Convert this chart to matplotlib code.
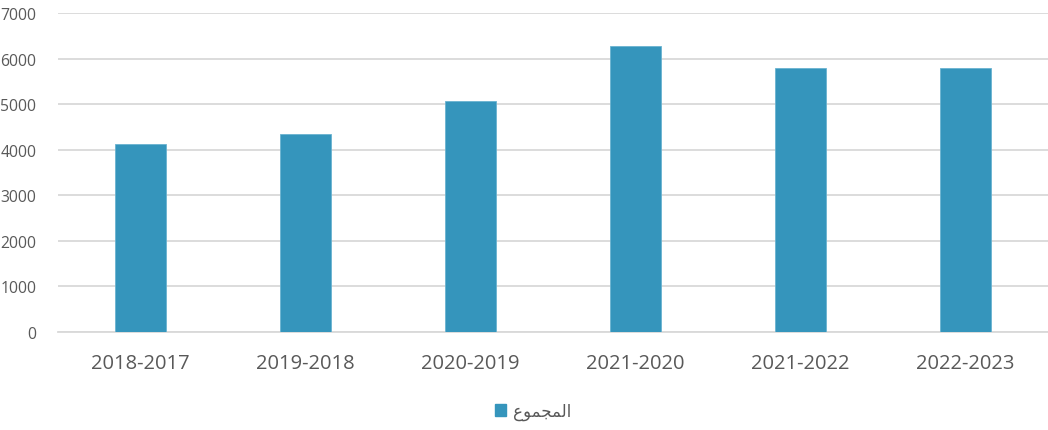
import matplotlib
matplotlib.use("Agg")
import matplotlib.pyplot as plt
from matplotlib.patches import Patch

# data
years = ["2018-2017", "2019-2018", "2020-2019", "2021-2020", "2021-2022", "2022-2023"]
totals = [4120, 4340, 5060, 6270, 5800, 5800]
y_ticks = [0, 1000, 2000, 3000, 4000, 5000, 6000, 7000]

# "المجموع" written in shaped presentation forms, visual order (matplotlib has no RTL shaping)
legend_label = "\ufec9\ufeee\ufee4\ufea0\ufee4\ufedf\ufe8d"

bar_color = "#3595BC"
text_color = "#595959"
grid_color = "#D9D9D9"

plt.rcParams["font.family"] = ["Open Sans", "DejaVu Sans"]

fig = plt.figure(figsize=(10.48, 4.31), dpi=100)
ax = fig.add_axes([58 / 1048, 98 / 431, 990 / 1048, 319 / 431])

x = range(len(years))
ax.bar(x, totals, width=0.315, color=bar_color, edgecolor="#6AB3D0", linewidth=0.6, zorder=3)

ax.set_xlim(-0.5, len(years) - 0.5)
ax.set_ylim(0, 7000)
ax.set_yticks(y_ticks)
ax.set_yticklabels([str(v) for v in y_ticks])
ax.set_xticks(list(x))
ax.set_xticklabels(years)

ax.yaxis.grid(True, color=grid_color, linewidth=1.3, zorder=0)
for side in ["top", "right", "left"]:
    ax.spines[side].set_visible(False)
ax.spines["bottom"].set_color(grid_color)
ax.spines["bottom"].set_linewidth(1.3)

ax.tick_params(axis="y", length=0, pad=15.5, labelsize=11.3, labelcolor=text_color)
ax.tick_params(axis="x", length=0, pad=15, labelsize=14.5, labelcolor=text_color)

handles = [Patch(facecolor=bar_color, edgecolor=bar_color)]
fig.legend(handles, [legend_label], loc="center", bbox_to_anchor=(533 / 1048, 1 - 412 / 431),
           frameon=False, labelcolor=text_color,
           prop={"family": ["DejaVu Sans"], "size": 12},
           handlelength=0.65, handleheight=0.65, handletextpad=0.4)

fig.savefig("out.png", dpi=100)
